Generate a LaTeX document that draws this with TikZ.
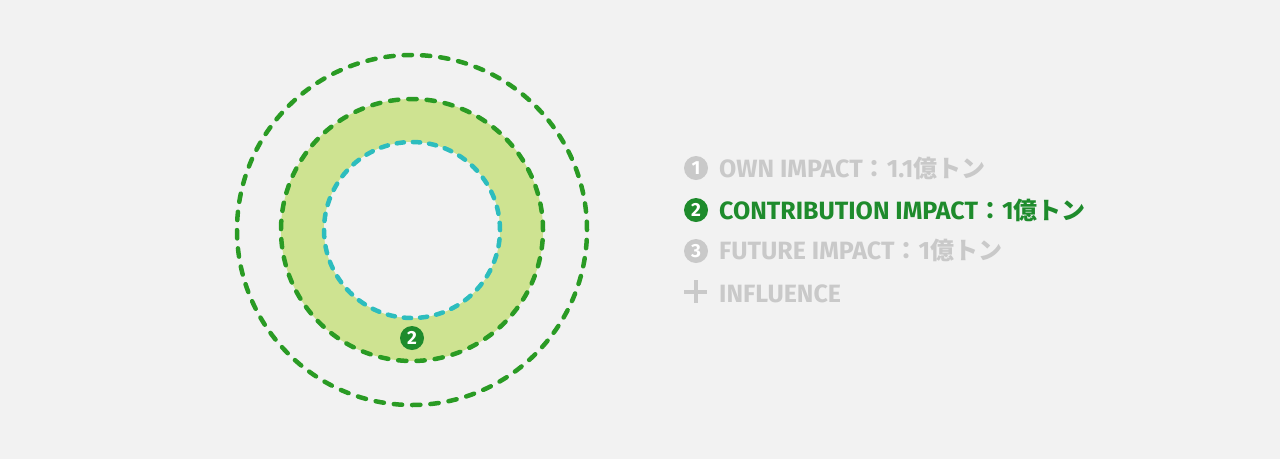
\documentclass[tikz,border=0pt]{standalone}
\usepackage{fontspec}
\usepackage{xcolor}
\usepackage{tikz}
\setmainfont{Fira Sans}
\newfontfamily\jpfont{Noto Sans CJK JP}
\definecolor{bggrey}{HTML}{F2F2F2}
\definecolor{mutedgrey}{HTML}{C9C9C9}
\definecolor{darkgreen}{HTML}{1E8B2C}
\definecolor{dashgreen}{HTML}{2A9B24}
\definecolor{ringfill}{HTML}{CEE391}
\definecolor{ringcyan}{HTML}{2DBDBE}
\newcommand{\jpbit}[1]{{\jpfont\bfseries\fontsize{24}{24}\selectfont #1}}

\begin{document}
\begin{tikzpicture}[x=1pt, y=-1pt,
    ring/.style={shape=circle, inner sep=0, line width=4.5pt, line cap=round},
    badge/.style={shape=circle, fill=#1, text=white, inner sep=0, minimum size=24pt,
        font=\fontsize{19}{19}\selectfont\bfseries},
    legend/.style={anchor=base west, text=#1, inner sep=0,
        font=\fontsize{25}{25}\selectfont\bfseries}]
    \useasboundingbox[fill=bggrey] (0,0) rectangle (1280,459);

    % rings
    \node[ring, draw=dashgreen, minimum size=350pt, dash pattern=on 8.33pt off 10pt] (outer) at (412,230) {};
    \node[ring, draw=dashgreen, fill=ringfill, minimum size=262pt, dash pattern=on 8.29pt off 10pt] (middle) at (412,230) {};
    \node[ring, draw=ringcyan, fill=bggrey, minimum size=176pt, dash pattern=on 7.26pt off 9pt] (inner) at (412,230) {};
    \node[badge=darkgreen] (ringbadge) at (412,338) {2};

    % legend
    \node[badge=mutedgrey] (b1) at (696,168) {1};
    \node[badge=darkgreen] (b2) at (696,210) {2};
    \node[badge=mutedgrey] (b3) at (696,251) {3};
    \node[inner sep=0, minimum size=23pt, path picture={
        \draw[mutedgrey, line width=4pt] (path picture bounding box.west) -- (path picture bounding box.east)
            (path picture bounding box.north) -- (path picture bounding box.south);}] (plus) at (695.5,291.5) {};

    \node[legend=mutedgrey] (own) at (719,177) {OWN IMPACT\jpbit{：}1.1\jpbit{億トン}};
    \node[legend=darkgreen] (contrib) at (719,219) {CONTRIBUTION IMPACT\jpbit{：}1\jpbit{億トン}};
    \node[legend=mutedgrey] (future) at (719,259) {FUTURE IMPACT\jpbit{：}1\jpbit{億トン}};
    \node[legend=mutedgrey] (influence) at (719,302) {INFLUENCE};
\end{tikzpicture}
\end{document}
